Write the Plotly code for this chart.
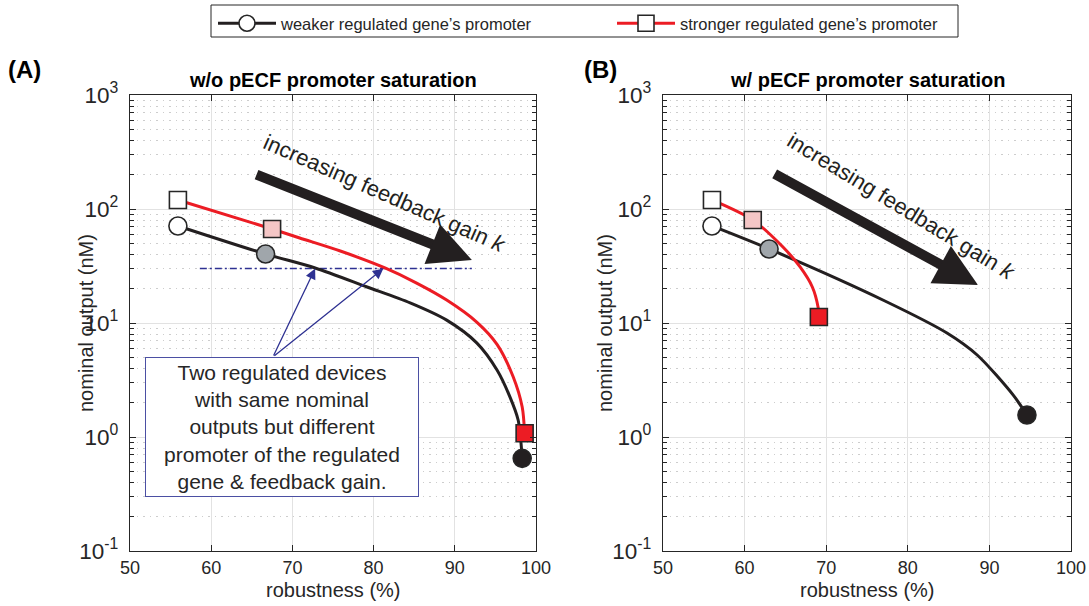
import plotly.graph_objects as go
import math

# ---------------- data ----------------
# Panel A: w/o pECF promoter saturation
A_weak_x = [55.9, 66.7, 72.8, 79.2, 84.5, 89.0, 92.7, 95.2, 96.8, 97.8, 98.3]
A_weak_y = [71.0, 40.3, 30.4, 20.7, 15.0, 10.6, 6.7, 3.87, 2.24, 1.41, 0.65]
A_strong_x = [55.9, 67.5, 70.9, 75.9, 81.4, 85.3, 89.0, 92.7, 95.2, 97.2, 98.3, 98.6]
A_strong_y = [120, 66.8, 55.7, 42.8, 30.4, 22.4, 15.9, 10.2, 6.5, 3.36, 1.83, 1.08]
# Panel B: w/ pECF promoter saturation
B_weak_x = [56.0, 63.0, 77.2, 84.8, 88.5, 92.9, 94.6]
B_weak_y = [71.0, 44.6, 15.6, 8.17, 5.24, 2.34, 1.56]
B_strong_x = [56.0, 61.0, 64.7, 66.8, 68.3, 69.0, 69.1]
B_strong_y = [120, 80.1, 46.4, 31.0, 20.7, 13.8, 11.3]
mid_index = 1  # position of the grey / pink marker on each curve

same_output_level = 30.0          # nM, dash-dot reference line in panel A
same_output_x = [58.6, 92.1]      # extent of that line (robustness %)
A_cross_x = [72.8, 81.2]          # where the curves meet the reference line

x_ticks = [50, 60, 70, 80, 90, 100]
titles = ["w/o pECF promoter saturation", "w/ pECF promoter saturation"]
panel_labels = ["(A)", "(B)"]
legend_names = ["weaker regulated gene\u2019s promoter", "stronger regulated gene\u2019s promoter"]
box_text = ("Two regulated devices<br>with same nominal<br>outputs but different<br>"
            "promoter of the regulated<br>gene &amp; feedback gain.")
arrow_text = "increasing feedback gain <i>k</i>"

# ---------------- styles ----------------
FONT = "Liberation Sans, Arial, sans-serif"
AX = "#262626"
BLACK = "#231f20"
RED = "#ec1c24"
PINK = "#f4c6c6"
GREY = "#a0a6ab"
NAVY = "#2e3192"
W, H = 1089, 606

fig = go.Figure()

def add_curve(xs, ys, color, xa, ya):
    fig.add_trace(go.Scatter(x=xs, y=ys, mode="lines",
                             line=dict(color=color, width=3, shape="spline", smoothing=0.8),
                             xaxis=xa, yaxis=ya, showlegend=False, hoverinfo="skip"))

def add_markers(xs, ys, xa, ya, symbol, fills):
    idx = [0, mid_index, len(xs) - 1]
    fig.add_trace(go.Scatter(x=[xs[i] for i in idx], y=[ys[i] for i in idx], mode="markers",
                             marker=dict(symbol=symbol, size=18 if symbol == "circle" else 17, color=fills,
                                         line=dict(color=AX, width=1.6)),
                             xaxis=xa, yaxis=ya, showlegend=False, hoverinfo="skip"))

# panel A
fig.add_trace(go.Scatter(x=same_output_x, y=[same_output_level] * 2, mode="lines",
                         line=dict(color=NAVY, width=1.5, dash="7px,3px,2px,3px"),
                         xaxis="x", yaxis="y", showlegend=False, hoverinfo="skip"))
add_curve(A_weak_x, A_weak_y, BLACK, "x", "y")
add_curve(A_strong_x, A_strong_y, RED, "x", "y")
add_markers(A_weak_x, A_weak_y, "x", "y", "circle", ["white", GREY, BLACK])
add_markers(A_strong_x, A_strong_y, "x", "y", "square", ["white", PINK, RED])
# panel B
add_curve(B_weak_x, B_weak_y, BLACK, "x2", "y2")
add_curve(B_strong_x, B_strong_y, RED, "x2", "y2")
add_markers(B_weak_x, B_weak_y, "x2", "y2", "circle", ["white", GREY, BLACK])
add_markers(B_strong_x, B_strong_y, "x2", "y2", "square", ["white", PINK, RED])

# legend-only traces
fig.add_trace(go.Scatter(x=[None], y=[None], mode="lines+markers", name=legend_names[0],
                         line=dict(color=BLACK, width=3),
                         marker=dict(symbol="circle", size=16, color="white", line=dict(color=AX, width=1.6))))
fig.add_trace(go.Scatter(x=[None], y=[None], mode="lines+markers", name=legend_names[1],
                         line=dict(color=RED, width=3),
                         marker=dict(symbol="square", size=16, color="white", line=dict(color=AX, width=1.6))))

# ---------------- axes ----------------
dom_x = [[130 / W, 536 / W], [663 / W, 1071 / W]]
dom_y = [1 - 551 / H, 1 - 95 / H]

def xaxis(dom, anchor):
    return dict(domain=dom, anchor=anchor, range=[50, 100], tickvals=x_ticks, ticks="inside", ticklen=6,
                tickcolor=AX, showline=True, linecolor=AX, linewidth=1.2, mirror="ticks",
                showgrid=True, gridcolor="#e2e2e2", gridwidth=1, zeroline=False, automargin=False,
                tickfont=dict(family=FONT, size=18, color=AX), ticklabelstandoff=0)

def yaxis(anchor):
    return dict(domain=dom_y, anchor=anchor, type="log", range=[-1, 3], dtick=1, exponentformat="power",
                labelalias={"10": "10<sup>1</sup>", "1": "10<sup>0</sup>", "10<sup>\u22121</sup>": "10<sup>-1</sup>"},
                ticks="inside", ticklen=6, tickcolor=AX, showline=True, linecolor=AX, linewidth=1.2,
                mirror="ticks", showgrid=True, gridcolor="#e2e2e2", gridwidth=1, zeroline=False,
                automargin=False,
                tickfont=dict(family=FONT, size=18, color=AX), ticklabelstandoff=7,
                minor=dict(dtick="D1", ticks="inside", ticklen=4, tickcolor=AX, showgrid=True,
                           gridcolor="#cdcdcd", griddash="1.5px,5px", gridwidth=1.2))

fig.update_layout(
    width=W, height=H, autosize=False, margin=dict(l=0, r=0, t=0, b=0, autoexpand=False),
    paper_bgcolor="white", plot_bgcolor="white",
    font=dict(family=FONT, color=AX),
    xaxis=xaxis(dom_x[0], "y"), yaxis=yaxis("x"),
    xaxis2=xaxis(dom_x[1], "y2"), yaxis2=yaxis("x2"),
    legend=dict(orientation="h", x=213 / W, xanchor="left", y=1 - 6 / H, yanchor="top",
                borderwidth=0, bgcolor="rgba(0,0,0,0)",
                font=dict(family=FONT, size=16.5, color=AX),
                itemwidth=58, entrywidth=326, entrywidthmode="pixels"),
    shapes=[dict(type="rect", xref="paper", yref="paper", x0=211 / W, x1=958 / W,
                 y0=1 - 37 / H, y1=1 - 5 / H, line=dict(color=AX, width=1), layer="below")],
)

def pann(text, px, py, size, color=AX, angle=0):
    return dict(text=text, x=px / W, y=1 - py / H, xref="paper", yref="paper", xanchor="center",
                yanchor="middle", showarrow=False, textangle=angle,
                font=dict(family=FONT, size=size, color=color))

ann = []
# panel titles, labels, axis titles
for i, (cx, lx, ylx) in enumerate([(333, 25, 86), (867, 600, 605)]):
    ann.append(pann("<b>" + titles[i] + "</b>", cx, 80, 20, "#000000"))
    ann.append(pann("<b>" + panel_labels[i] + "</b>", lx, 70, 24, "#000000"))
    ann.append(pann("robustness (%)", cx, 590, 20))
    ann.append(pann("nominal output (nM)", ylx, 323, 20, angle=-90))

# big feedback-gain arrows and rotated text
ann.append(dict(x=92.1, y=1.553, ax=65.4, ay=2.307, xref="x", yref="y", axref="x", ayref="y",
                text="", showarrow=True, arrowhead=2, arrowsize=0.85, arrowwidth=10, arrowcolor=BLACK))
ann.append(dict(x=88.6, y=1.333, ax=63.5, ay=2.316, xref="x2", yref="y2", axref="x2", ayref="y2",
                text="", showarrow=True, arrowhead=2, arrowsize=0.85, arrowwidth=10, arrowcolor=BLACK))
ann.append(dict(x=81.4, y=2.14, xref="x", yref="y", text=arrow_text, textangle=23.7, showarrow=False,
                font=dict(family=FONT, size=22, color=BLACK)))
ann.append(dict(x=79.2, y=2.018, xref="x2", yref="y2", text=arrow_text, textangle=31.3, showarrow=False,
                font=dict(family=FONT, size=22, color=BLACK)))

# explanation box and its arrows (panel A)
tail_x, tail_y = 67.6, math.log10(5.03)
for cx in A_cross_x:
    ann.append(dict(x=cx, y=math.log10(same_output_level), ax=tail_x, ay=tail_y, xref="x", yref="y",
                    axref="x", ayref="y", text="", showarrow=True, arrowhead=2, arrowsize=1.6,
                    arrowwidth=1.3, arrowcolor=NAVY))
ann.append(dict(x=68.7, y=0.088, xref="x", yref="y", text=box_text, showarrow=False, align="center",
                width=268, height=134, bordercolor="#4b4fa3", borderwidth=1, borderpad=2, bgcolor="white",
                font=dict(family=FONT, size=21, color=AX)))

fig.update_layout(annotations=ann)
fig.write_html("out.html")
